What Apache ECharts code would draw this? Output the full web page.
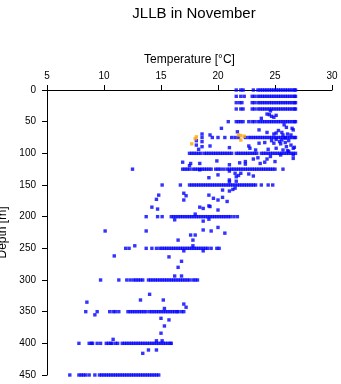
<!DOCTYPE html>
<html><head><meta charset="utf-8">
<script src="https://cdn.jsdelivr.net/npm/echarts@6/dist/echarts.min.js"></script>
<style>html,body{margin:0;padding:0;background:#fff}#c{width:341px;height:384px}</style>
</head><body><div id="c"></div>
<script>
// Standard depths [m] with temperatures [°C] observed at each
const stdDepths = [0, 10, 20, 30, 50, 75, 100, 125, 150, 200, 250, 300, 350, 400, 450];
const tempsAt0 = [21.6,22.0,22.2,23.1,23.5,23.7,23.9,24.1,24.3,24.5,24.7,24.9,25.1,25.3,25.5,25.7,25.9,26.1,26.3,26.5,26.7,26.8];
const tempsAt10 = [21.6,22.0,22.3,23.0,23.2,23.5,23.7,23.9,24.1,24.3,24.5,24.7,24.9,25.1,25.3,25.5,25.7,25.9,26.1,26.3,26.5,26.7,26.8];
const tempsAt20 = [21.6,21.9,22.1,23.0,23.2,23.5,23.7,23.9,24.1,24.3,24.5,24.7,24.9,25.1,25.3,25.5,25.7,25.9,26.1,26.3,26.5,26.7,26.8];
const tempsAt30 = [21.6,22.0,22.2,23.0,23.2,23.5,23.7,23.9,24.1,24.3,24.5,24.7,24.9,25.1,25.3,25.5,25.7,25.9,26.1,26.3,26.5,26.7,26.8];
const tempsAt50 = [20.9,21.6,21.8,22.0,22.2,22.7,23.0,23.2,23.5,23.7,23.9,24.1,24.3,24.5,24.7,24.9,25.1,25.3,25.5,25.7,25.9,26.1,26.3,26.5,26.7,26.8];
const tempsAt75 = [18.6,19.5,20.0,20.6,21.2,21.5,21.8,22.4,22.7,22.9,23.1,23.3,23.5,23.7,23.9,24.1,24.3,24.5,24.7,24.9,25.1,25.3,25.5,25.7,25.9,26.1,26.3,26.5,26.7,26.8];
const tempsAt100 = [17.5,17.7,17.9,18.1,18.3,18.5,18.8,19.0,19.2,19.4,19.6,19.8,20.0,20.2,20.4,20.6,20.8,21.0,21.2,21.6,21.8,22.0,22.2,22.4,22.6,22.8,23.0,23.2,23.4,23.8,24.0,24.2,24.4,24.6,24.8,25.0,25.2,25.4,25.6,25.8,26.0,26.2,26.4,26.6,26.8];
const tempsAt125 = [12.5,16.9,17.1,17.3,17.5,17.8,18.0,18.2,18.4,18.6,18.8,19.0,19.2,19.4,19.8,20.0,20.2,20.5,20.8,21.0,21.2,21.4,21.6,21.8,22.0,22.2,22.4,22.6,22.8,23.0,23.2,23.4,23.6,23.8,24.0,24.2,24.4,24.6,24.8,25.0,25.7];
const tempsAt150 = [15.1,16.7,17.5,17.7,17.9,18.1,18.3,18.5,18.7,18.9,19.1,19.3,19.5,19.7,19.9,20.1,20.3,20.5,20.7,20.9,21.1,21.3,21.5,21.7,21.9,22.1,22.3,22.5,22.7,22.9,23.1,23.3,23.8,24.4,24.8];
const tempsAt200 = [13.7,14.7,15.1,15.9,16.1,16.3,16.5,16.7,16.9,17.1,17.3,17.5,17.7,17.9,18.1,18.3,18.5,18.7,18.9,19.1,19.3,19.5,19.7,19.9,20.1,20.3,20.5,20.7,20.9,21.1,21.4,21.7];
const tempsAt250 = [11.9,12.2,13.7,14.2,14.6,14.9,15.1,15.3,15.5,15.7,15.9,16.1,16.3,16.5,16.7,16.9,17.1,17.3,17.5,17.7,17.9,18.1,18.3,18.5,18.7,18.9,19.1,19.4,19.9,20.1];
const tempsAt300 = [9.7,11.3,12.0,12.3,12.6,12.8,13.0,13.2,13.4,13.9,14.1,14.3,14.5,14.7,14.9,15.1,15.3,15.5,15.7,15.9,16.1,16.3,16.5,16.7,16.9,17.1,17.3,17.5,17.8,18.0,18.2];
const tempsAt350 = [8.4,9.4,10.5,10.8,11.0,11.3,12.1,12.3,12.5,12.7,12.9,13.1,13.3,13.5,13.7,14.0,14.2,14.4,14.6,14.8,15.0,15.2,15.4,15.6,15.8,16.0,16.2,16.4,16.5,16.8,17.0];
const tempsAt400 = [7.8,8.7,8.9,9.0,9.4,9.7,10.2,10.4,10.6,10.7,11.0,11.2,11.6,11.8,12.0,12.2,12.4,12.6,12.8,13.0,13.2,13.4,13.6,13.8,14.0,14.2,14.4,14.6,14.8,15.0,15.2,15.4,15.6,15.8,15.9];
const tempsAt450 = [7.0,7.8,8.0,8.2,8.4,8.7,9.2,9.6,9.8,10.0,10.2,10.4,10.6,10.8,11.0,11.2,11.4,11.6,11.8,12.0,12.2,12.4,12.6,12.8,13.0,13.2,13.4,13.6,13.8,14.0,14.2,14.4,14.6,14.8];
const tempsByDepth = [tempsAt0,tempsAt10,tempsAt20,tempsAt30,tempsAt50,tempsAt75,tempsAt100,tempsAt125,tempsAt150,tempsAt200,tempsAt250,tempsAt300,tempsAt350,tempsAt400,tempsAt450];

// Observations at non-standard depths: [temperature, depth]
const otherObs = [
 [24.6,33],[24.3,38],[24.5,39],[24.7,41.5],[24.9,43],[23.8,44.7],[25.1,40],
 [20.3,60.5],[21.7,66],[23.6,63],[25.8,55],[26.0,59],[26.5,60.5],[26.6,63],[24.9,69.5],[24.3,67],[25.1,68],[25.6,67],[25.7,71],[26.1,69.5],[26.4,71],[18.6,69.5],[19.3,71],[25.3,64],
 [18.1,80],[18.6,81.5],[18.1,87],[18.6,89.5],[18.3,93.6],[19.3,88.4],[21.0,91],[22.7,88.4],[22.8,92],[23.3,94.7],[23.6,84],[24.1,83],[24.4,93.6],[24.9,84],[25.1,92],[25.5,85],[25.7,94.7],[26.0,89.5],[26.4,87],[26.6,92],[26.1,95.8],[25.1,78],[25.6,79],[25.9,76],[24.7,80],[25.4,81.5],[25.9,83],[26.2,80],[26.7,90.5],
 [16.9,114],[17.6,116],[17.5,119.5],[18.4,116],[19.9,112],[21.0,118],[21.9,115],[22.4,117],[22.4,113],[23.1,109],[23.5,107],[23.7,116],[24.1,114],[24.3,109],[24.6,105],[25.0,113],[25.5,102.6],[26.2,97],[26.6,102.6],[26.6,108],
 [19.2,138.5],[20.0,134],[21.0,128],[21.0,142],[21.0,145],[21.6,137],[21.8,135],[21.5,131.5],[22.0,131.5],[22.7,132.6],[23.1,135.8],[21.6,144],[18.4,126],
 [17.0,163],[17.2,167],[17.0,173.7],[14.8,166],[14.6,172.6],[14.2,185],[14.7,188],[18.4,185],[18.7,187],[19.2,166],[19.2,183],[19.6,171],[20.0,173.7],[20.0,189.5],[20.4,169.5],[20.8,176],[20.4,158],[21.0,159.5],[21.3,157],[21.5,155],[18.0,196],[19.3,184],
 [16.2,205],[18.7,207],[19.2,204],
 [10.1,222.6],[13.7,222.6],[16.5,237],[17.8,237],[17.6,229],[18.0,229],[18.7,221],[19.4,222.6],[20.0,217],[20.6,226],[12.7,246],[17.8,246],
 [17.0,254],[18.7,254],
 [10.9,262],[15.7,263.5],[16.8,270.5],[16.5,280],[16.2,293.7],[16.8,293.7],
 [13.2,331.6],[14.0,322.6],[15.2,331.6],[8.5,335],[17.0,338],[17.2,343],[15.3,345],
 [9.2,355],[15.0,360.5],[15.7,363],[15.3,372.6],[15.0,384],[10.8,393.7],[14.6,396],[15.1,396],
 [13.4,415.8],[13.9,410.5],[14.6,410.5]
];

// Highlighted (orange) observations: [temperature, depth]
const orangeObs = [[18.1,74],[18.0,77],[17.7,85],[21.8,71],[22.0,72],[22.3,73],[22.0,79]];

const titleText = 'JLLB in November';
const xName = 'Temperature [°C]';
const yName = 'Depth [m]';

const blueData = [];
stdDepths.forEach((d, i) => tempsByDepth[i].forEach(t => blueData.push([t, d])));
otherObs.forEach(p => blueData.push(p));

const FONT = 'Liberation Sans, Arial, sans-serif';
const chart = echarts.init(document.getElementById('c'), null, {renderer: 'canvas'});
chart.setOption({
  animation: false,
  backgroundColor: '#fff',
  title: {
    text: titleText, left: 189, top: 1, textAlign: 'center',
    textStyle: {fontFamily: FONT, fontSize: 15, fontWeight: 'normal', color: '#000'}
  },
  grid: {left: 47, top: 90, width: 285, height: 285, containLabel: false, outerBoundsMode: 'none'},
  xAxis: {
    type: 'value', position: 'top', min: 5, max: 30, interval: 5,
    name: xName, nameLocation: 'middle', nameGap: 23,
    nameTextStyle: {fontFamily: FONT, fontSize: 12, color: '#000'},
    axisLine: {show: true, lineStyle: {color: '#000', width: 1}},
    axisTick: {show: true, inside: false, length: 5, lineStyle: {color: '#000'}},
    axisLabel: {fontFamily: FONT, fontSize: 10, color: '#000', margin: 9},
    splitLine: {show: false}
  },
  yAxis: {
    type: 'value', inverse: true, min: 0, max: 450, interval: 50,
    name: yName, nameLocation: 'middle', nameGap: 27,
    nameTextStyle: {fontFamily: FONT, fontSize: 12, color: '#000'},
    axisLine: {show: true, lineStyle: {color: '#000', width: 1}},
    axisTick: {show: true, inside: false, length: 5, lineStyle: {color: '#000'}},
    axisLabel: {fontFamily: FONT, fontSize: 10, color: '#000', margin: 11},
    splitLine: {show: false}
  },
  series: [
    {type: 'scatter', data: blueData, symbol: 'rect', symbolSize: 3.4,
     itemStyle: {color: '#0000ff'}, silent: true},
    {type: 'scatter', data: orangeObs, symbol: 'rect', symbolSize: 3.4,
     itemStyle: {color: '#ffa500'}, silent: true}
  ]
});
</script></body></html>
